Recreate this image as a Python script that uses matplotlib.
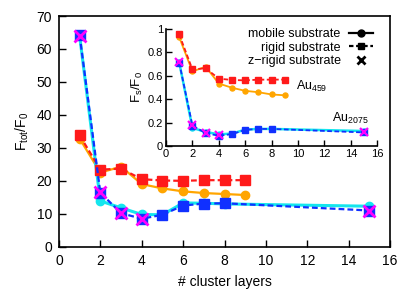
import matplotlib
matplotlib.use("Agg")
import matplotlib.pyplot as plt
from matplotlib.lines import Line2D

plt.rcParams['font.family'] = ['Liberation Sans', 'DejaVu Sans']
plt.rcParams['mathtext.fontset'] = 'custom'
plt.rcParams['mathtext.rm'] = 'Liberation Sans'
plt.rcParams['mathtext.it'] = 'Liberation Sans'

# ---- main panel data: F_tot / F_0 ----
x459 = [1, 2, 3, 4, 5, 6, 7, 8, 9]
mobile459 = [32.8, 22.5, 24.3, 19.0, 17.7, 16.8, 16.3, 16.0, 15.7]
rigid459 = [33.8, 23.4, 23.7, 20.5, 20.1, 20.0, 20.2, 20.2, 20.2]

x2075 = [1, 2, 3, 4, 5, 6, 7, 8, 15]
mobile2075 = [64.0, 13.9, 11.8, 9.8, 9.7, 13.3, 13.2, 13.0, 12.3]
rigid2075 = [64.2, 16.4, 10.2, 8.5, 9.7, 12.5, 13.1, 13.2, 11.0]

xz = [1, 2, 3, 4, 15]
zrigid2075 = [64.0, 16.5, 10.2, 8.5, 11.0]

# ---- inset data: F_s / F_0 ----
in_mobile459 = [0.926, 0.635, 0.675, 0.532, 0.496, 0.470, 0.458, 0.439, 0.432]
in_rigid459 = [0.950, 0.652, 0.662, 0.574, 0.562, 0.559, 0.565, 0.565, 0.566]
in_mobile2075 = [0.712, 0.155, 0.120, 0.100, 0.106, 0.140, 0.146, 0.146, 0.128]
in_rigid2075 = [0.710, 0.175, 0.110, 0.088, 0.102, 0.138, 0.146, 0.146, 0.116]
in_zrigid2075 = [0.712, 0.180, 0.115, 0.092, 0.116]

xticks = [0, 2, 4, 6, 8, 10, 12, 14, 16]
yticks_main = [0, 10, 20, 30, 40, 50, 60, 70]
yticks_inset = [0, 0.2, 0.4, 0.6, 0.8, 1]
yticklabels_inset = ['0', '0.2', '0.4', '0.6', '0.8', '1']

ORANGE = '#FFA500'
RED = '#FF1A1A'
CYAN = '#14E6EE'
BLUE = '#1030FF'
MAG = '#FF00FF'

fig = plt.figure(figsize=(4.15, 2.91), dpi=100)
ax = fig.add_axes([0.142, 0.152, 0.798, 0.793])

dash = (2.6, 1.4)
ax.plot(x459, mobile459, '-', color=ORANGE, lw=1.6, marker='o', ms=6, zorder=3)
ax.plot(x459, rigid459, color=RED, lw=1.6, ls=(0, dash), marker='s', ms=6.5, zorder=4)
ax.plot(x2075, mobile2075, '-', color=CYAN, lw=2.2, marker='o', ms=6, zorder=3)
ax.plot(x2075, rigid2075, color=BLUE, lw=1.6, ls=(0, dash), marker='s', ms=6.5, zorder=4)
ax.plot(xz, zrigid2075, 'x', color=MAG, ms=8, mew=2, zorder=5)

ax.set_xlim(0, 16)
ax.set_ylim(0, 70)
ax.set_xticks(xticks)
ax.set_yticks(yticks_main)
ax.tick_params(direction='in', length=5, width=1, labelsize=10, top=False, right=False, pad=5)
for s in ax.spines.values():
    s.set_linewidth(1.2)
ax.set_xlabel('# cluster layers', fontsize=10, labelpad=5)
ax.set_ylabel(r'F$_{\rm tot}$/F$_0$', fontsize=10, labelpad=4)

handles = [
    Line2D([], [], color='black', lw=1.6, marker='o', ms=5),
    Line2D([], [], color='black', lw=1.6, ls=(0, (2.0, 1.2)), marker='s', ms=5),
    Line2D([], [], color='black', lw=0, marker='x', ms=6, mew=2),
]
ax.legend(handles, ['mobile substrate', 'rigid substrate', 'z\u2212rigid substrate'],
          loc='upper right', bbox_to_anchor=(0.975, 0.985), frameon=False, fontsize=9,
          markerfirst=False, handlelength=1.9, handletextpad=0.7,
          labelspacing=0.12, borderpad=0.2)

# inset
ins = fig.add_axes([0.40, 0.498, 0.509, 0.404])
ins.patch.set_alpha(0)
ins.plot(x459, in_mobile459, '-', color=ORANGE, lw=1.3, marker='o', ms=3.6, zorder=3)
ins.plot(x459, in_rigid459, color=RED, lw=1.3, ls=(0, dash), marker='s', ms=3.8, zorder=4)
ins.plot(x2075, in_mobile2075, '-', color=CYAN, lw=1.8, marker='o', ms=3.6, zorder=3)
ins.plot(x2075, in_rigid2075, color=BLUE, lw=1.3, ls=(0, dash), marker='s', ms=3.8, zorder=4)
ins.plot(xz, in_zrigid2075, 'x', color=MAG, ms=5.5, mew=1.6, zorder=5)
ins.set_xlim(0, 16)
ins.set_ylim(0, 1)
ins.set_xticks(xticks)
ins.set_yticks(yticks_inset)
ins.set_yticklabels(yticklabels_inset)
ins.spines['top'].set_visible(False)
ins.spines['right'].set_visible(False)
for s in ['left', 'bottom']:
    ins.spines[s].set_linewidth(1.2)
ins.tick_params(direction='in', length=4, width=1, labelsize=8, pad=2)
ins.set_ylabel(r'F$_{\rm s}$/F$_0$', fontsize=9.5, labelpad=2)
ins.text(9.85, 0.475, r'Au$_{459}$', fontsize=9, ha='left', va='baseline')
ins.text(12.6, 0.205, r'Au$_{2075}$', fontsize=9, ha='left', va='baseline')

fig.savefig('out.png', dpi=100)
